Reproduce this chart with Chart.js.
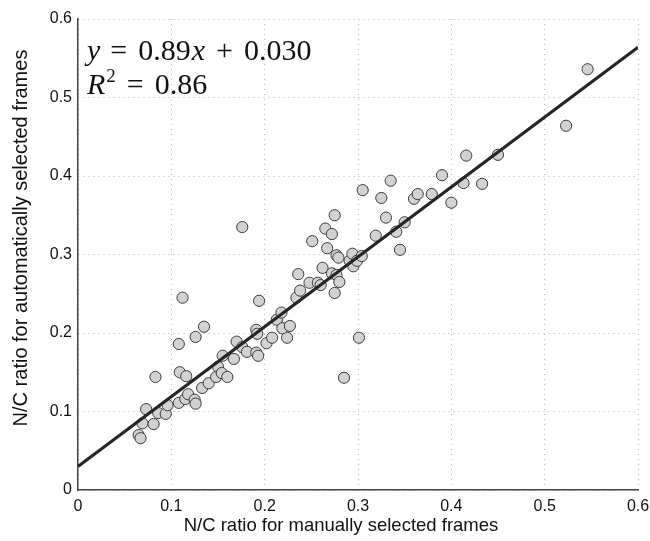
<!DOCTYPE html>
<html>
<head>
<meta charset="utf-8">
<script src="https://cdn.jsdelivr.net/npm/chart.js@4.4.1/dist/chart.umd.min.js"></script>
<style>
  html, body { margin: 0; padding: 0; background: #fff; }
</style>
</head>
<body>
<canvas id="scatter" width="650" height="541"></canvas>
<script>
// N/C ratio, manual (x) vs automatic (y) frame selection
const manualNC = [
  0.065, 0.067, 0.069, 0.073, 0.081, 0.086, 0.094, 0.096, 0.083, 0.108,
  0.108, 0.109, 0.115, 0.116, 0.118, 0.125, 0.126, 0.126, 0.133, 0.135,
  0.140, 0.148, 0.150, 0.154, 0.155, 0.160, 0.167, 0.170, 0.176, 0.181,
  0.191, 0.192, 0.191, 0.193, 0.202, 0.112, 0.176, 0.194, 0.208, 0.224,
  0.213, 0.219, 0.227, 0.218, 0.234, 0.238, 0.236, 0.248, 0.257, 0.260,
  0.262, 0.251, 0.265, 0.272, 0.275, 0.267, 0.277, 0.279, 0.272, 0.277,
  0.280, 0.275, 0.285, 0.301, 0.291, 0.295, 0.294, 0.299, 0.304, 0.305,
  0.325, 0.330, 0.319, 0.341, 0.350, 0.345, 0.335, 0.360, 0.364, 0.379,
  0.390, 0.400, 0.413, 0.416, 0.433, 0.450, 0.523, 0.546
];
const autoNC = [
  0.070, 0.066, 0.085, 0.103, 0.084, 0.098, 0.097, 0.108, 0.144, 0.111,
  0.186, 0.150, 0.116, 0.145, 0.122, 0.115, 0.110, 0.195, 0.130, 0.208,
  0.136, 0.144, 0.157, 0.149, 0.171, 0.144, 0.167, 0.189, 0.182, 0.176,
  0.204, 0.199, 0.175, 0.171, 0.187, 0.245, 0.335, 0.241, 0.194, 0.194,
  0.217, 0.206, 0.209, 0.226, 0.245, 0.254, 0.275, 0.264, 0.264, 0.261,
  0.283, 0.317, 0.333, 0.326, 0.350, 0.308, 0.299, 0.296, 0.276, 0.274,
  0.265, 0.251, 0.143, 0.194, 0.292, 0.285, 0.301, 0.292, 0.298, 0.382,
  0.372, 0.347, 0.324, 0.329, 0.341, 0.306, 0.394, 0.371, 0.377, 0.377,
  0.401, 0.366, 0.391, 0.426, 0.390, 0.427, 0.464, 0.536
];

// linear fit reported in the figure
const fitSlope = 0.89;
const fitIntercept = 0.030;
const fitRange = [0, 0.6];

const xTitle = 'N/C ratio for manually selected frames';
const yTitle = 'N/C ratio for automatically selected frames';

const points = manualNC.map((x, i) => ({ x: x, y: autoNC[i] }));
const fitLine = fitRange.map(x => ({ x: x, y: fitSlope * x + fitIntercept }));

const sans = '"Liberation Sans", Arial, sans-serif';
const serif = '"Liberation Serif", "DejaVu Serif", serif';

// equation text + axis titles
const annotations = {
  id: 'annotations',
  afterDraw(chart) {
    const ctx = chart.ctx;
    const area = chart.chartArea;
    const it = 'italic 30px ' + serif;
    const rm = '30px ' + serif;
    ctx.save();
    ctx.fillStyle = '#111';
    ctx.textBaseline = 'alphabetic';

    let x = area.left + 9;
    let y = area.top + 41;
    const parts = [[it, 'y', 10], [rm, '=', 11], [rm, '0.89', 1], [it, 'x', 11], [rm, '+', 11], [rm, '0.030', 0]];
    parts.forEach(([f, s, gap]) => {
      ctx.font = f;
      ctx.fillText(s, x, y);
      x += ctx.measureText(s).width + gap;
    });

    x = area.left + 9;
    y = area.top + 75;
    ctx.font = it;
    ctx.fillText('R', x, y);
    x += ctx.measureText('R').width + 1;
    ctx.font = '19px ' + serif;
    ctx.fillText('2', x, y - 12);
    x += ctx.measureText('2').width + 11;
    ctx.font = rm;
    ctx.fillText('=', x, y);
    x += ctx.measureText('=').width + 11;
    ctx.fillText('0.86', x, y);

    // axis titles
    ctx.textAlign = 'center';
    ctx.textBaseline = 'middle';
    ctx.font = '18.5px ' + sans;
    ctx.fillText(xTitle, 341, 526);
    ctx.translate(21, 238);
    ctx.rotate(-Math.PI / 2);
    ctx.font = '20px ' + sans;
    ctx.fillText(yTitle, 0, 0);
    ctx.restore();
  }
};

new Chart(document.getElementById('scatter'), {
  type: 'scatter',
  data: {
    datasets: [
      {
        type: 'line',
        label: 'Linear fit',
        data: fitLine,
        borderColor: '#262626',
        borderWidth: 3,
        pointRadius: 0,
        fill: false,
        order: 0
      },
      {
        label: 'Frames',
        data: points,
        backgroundColor: '#d2d2d2',
        borderColor: '#3c3c3c',
        borderWidth: 1,
        pointRadius: 5.6,
        order: 1
      }
    ]
  },
  plugins: [annotations],
  options: {
    responsive: false,
    animation: false,
    layout: { padding: { top: 19, right: 12, left: 0, bottom: 0 } },
    plugins: {
      legend: { display: false },
      tooltip: { enabled: false }
    },
    scales: {
      x: {
        type: 'linear',
        min: 0,
        max: 0.6,
        ticks: { stepSize: 0.1, color: '#111', padding: 7, font: { family: sans, size: 16 } },
        grid: { color: '#b8b8b8', lineWidth: 1, drawTicks: false },
        border: { color: '#444', width: 1.5, dash: [1, 4] },
        afterFit(scale) {
          scale.height = 51;
          scale.paddingLeft = 0;
          scale.paddingRight = 0;
        }
      },
      y: {
        type: 'linear',
        min: 0,
        max: 0.6,
        ticks: { stepSize: 0.1, color: '#111', padding: 6, font: { family: sans, size: 16 } },
        grid: { color: '#b8b8b8', lineWidth: 1, drawTicks: false },
        border: { color: '#444', width: 1.5, dash: [1, 4] },
        afterFit(scale) { scale.width = 78; }
      }
    }
  }
});
</script>
</body>
</html>
